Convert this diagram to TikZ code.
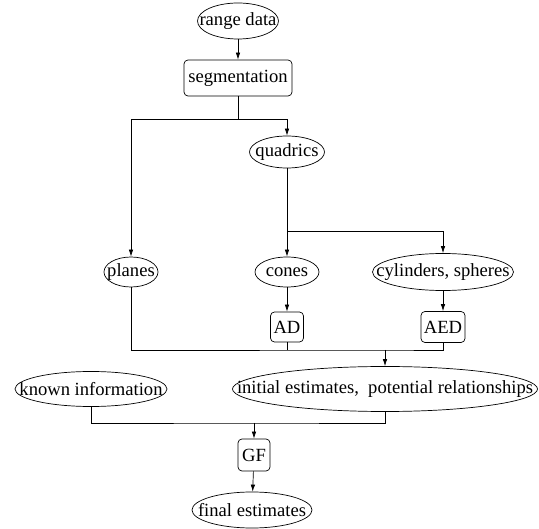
\documentclass[tikz,border=0pt]{standalone}
\usepackage{fontspec}
\setmainfont{Liberation Serif}
\usetikzlibrary{arrows.meta,shapes.geometric}

\begin{document}
\begin{tikzpicture}[
x=1pt, y=-1pt,
font=\fontsize{18.6}{21}\selectfont,
oval/.style={draw, ellipse, inner sep=0pt},
box/.style={draw, rounded corners=4pt, inner sep=0pt},
arrow/.style={-{Latex[length=7pt,width=4.5pt]}},
line width=0.7pt
]
\useasboundingbox (0,0) rectangle (539,529);
\node[oval, minimum width=81pt, minimum height=36pt] (range) at (238,21) {\makebox[0pt]{range data}};
\node[box, minimum width=108pt, minimum height=36pt] (seg) at (238,78) {segmentation};
\node[oval, minimum width=75pt, minimum height=32pt] (quadrics) at (287,152) {\makebox[0pt]{quadrics}};
\node[oval, minimum width=54pt, minimum height=30pt] (planes) at (131,272) {\makebox[0pt]{planes}};
\node[oval, minimum width=64pt, minimum height=30pt] (cones) at (287,272) {\makebox[0pt]{cones}};
\node[oval, minimum width=141pt, minimum height=37pt] (cyl) at (443,272) {\makebox[0pt]{cylinders, spheres}};
\node[box, minimum width=33pt, minimum height=30pt] (ad) at (287,327) {AD};
\node[box, minimum width=44pt, minimum height=31pt] (aed) at (443,327) {AED};
\node[oval, minimum width=152pt, minimum height=35pt] (known) at (91,389) {\makebox[0pt]{known information}};
\node[oval, minimum width=305pt, minimum height=45pt] (init) at (385,389) {\makebox[0pt]{initial estimates,~ potential relationships}};
\node[box, minimum width=32pt, minimum height=32pt] (gf) at (254,455) {GF};
\node[oval, minimum width=120pt, minimum height=36pt] (final) at (252,510) {\makebox[0pt]{final estimates}};
\coordinate (segfork) at (238,119);
\coordinate (qfork) at (287,231);
\coordinate (merge) at (385,350);
\coordinate (join) at (254,423);
\draw[arrow] (range) -- (seg);
\draw (seg) -- (segfork);
\draw[arrow] (segfork) -| (planes.north);
\draw[arrow] (segfork) -| (quadrics.north);
\draw (quadrics) -- (qfork);
\draw[arrow] (qfork) -- (cones);
\draw[arrow] (qfork) -| (cyl.north);
\draw[arrow] (cones) -- (ad);
\draw[arrow] (cyl) -- (aed);
\draw (planes.south) |- (merge) -| (aed.south);
\draw (ad.south) -- (ad.south |- merge);
\draw[arrow] (merge) -- (init);
\draw (known.south) |- (join) -| (init.south);
\draw[arrow] (join) -- (gf);
\draw[arrow] (gf) -- (final);
\end{tikzpicture}
\end{document}
